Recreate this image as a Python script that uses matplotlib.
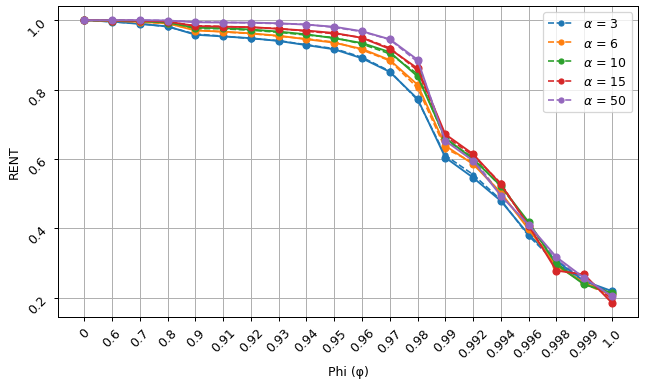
import matplotlib
matplotlib.use("Agg")
import matplotlib.pyplot as plt

phi_labels = ["0", "0.6", "0.7", "0.8", "0.9", "0.91", "0.92", "0.93", "0.94", "0.95",
              "0.96", "0.97", "0.98", "0.99", "0.992", "0.994", "0.996", "0.998", "0.999", "1.0"]
alphas = [3, 6, 10, 15, 50]

# solid runs (larger markers)
rent_a3 = [1.0, 0.996, 0.989, 0.982, 0.958, 0.953, 0.948, 0.940, 0.928, 0.916,
           0.890, 0.851, 0.773, 0.604, 0.546, 0.479, 0.382, 0.306, 0.248, 0.219]
rent_a6 = [1.0, 0.998, 0.995, 0.991, 0.970, 0.967, 0.962, 0.955, 0.945, 0.935,
           0.917, 0.885, 0.814, 0.638, 0.585, 0.503, 0.397, 0.292, 0.243, 0.210]
rent_a10 = [1.0, 0.999, 0.997, 0.993, 0.978, 0.977, 0.973, 0.967, 0.959, 0.948,
            0.934, 0.908, 0.838, 0.660, 0.600, 0.522, 0.418, 0.296, 0.238, 0.214]
rent_a15 = [1.0, 0.999, 0.998, 0.996, 0.983, 0.981, 0.980, 0.975, 0.970, 0.963,
            0.949, 0.917, 0.861, 0.671, 0.614, 0.527, 0.408, 0.278, 0.267, 0.185]
rent_a50 = [1.0, 1.0, 1.0, 0.999, 0.994, 0.993, 0.993, 0.991, 0.987, 0.981,
            0.968, 0.945, 0.886, 0.652, 0.595, 0.494, 0.410, 0.317, 0.257, 0.204]

# dashed runs (shown in legend)
dash_a3 = [1.0, 0.995, 0.990, 0.981, 0.960, 0.954, 0.947, 0.941, 0.929, 0.918,
           0.893, 0.853, 0.770, 0.610, 0.555, 0.482, 0.378, 0.300, 0.245, 0.215]
dash_a6 = [1.0, 0.998, 0.995, 0.990, 0.972, 0.966, 0.961, 0.954, 0.946, 0.937,
           0.914, 0.883, 0.805, 0.630, 0.590, 0.500, 0.400, 0.295, 0.240, 0.205]
dash_a10 = [1.0, 0.999, 0.997, 0.994, 0.976, 0.975, 0.971, 0.965, 0.957, 0.950,
            0.931, 0.903, 0.845, 0.655, 0.605, 0.520, 0.415, 0.300, 0.240, 0.210]
dash_a15 = [1.0, 0.999, 0.998, 0.995, 0.984, 0.982, 0.979, 0.976, 0.968, 0.961,
            0.950, 0.920, 0.855, 0.665, 0.610, 0.530, 0.405, 0.285, 0.262, 0.195]
dash_a50 = [1.0, 1.0, 1.0, 0.999, 0.995, 0.994, 0.992, 0.990, 0.988, 0.979,
            0.967, 0.944, 0.880, 0.660, 0.600, 0.498, 0.405, 0.310, 0.252, 0.208]

solid = [rent_a3, rent_a6, rent_a10, rent_a15, rent_a50]
dashed = [dash_a3, dash_a6, dash_a10, dash_a15, dash_a50]
colors = ["tab:blue", "tab:orange", "tab:green", "tab:red", "tab:purple"]

fig, ax = plt.subplots(figsize=(7.2, 4.322), dpi=90)
x = list(range(len(phi_labels)))

for a, ys, c in zip(alphas, dashed, colors):
    ax.plot(x, ys, "--o", color=c, markersize=4, linewidth=1.3, label=rf"$\alpha$ = {a}")
for ys, c in zip(solid, colors):
    ax.plot(x, ys, "-o", color=c, markersize=5.5, linewidth=1.5)

ax.set_xticks(x)
ax.set_xticklabels(phi_labels, rotation=45)
ax.tick_params(axis="y", labelrotation=45)
ax.set_yticks([0.2, 0.4, 0.6, 0.8, 1.0])
ax.set_xlabel("Phi (φ)")
ax.set_ylabel("RENT")
ax.grid(True)
ax.legend(loc="upper right")

plt.subplots_adjust(left=0.0895, right=0.985, top=0.982, bottom=0.1825)
plt.savefig("out.png", dpi=90)
